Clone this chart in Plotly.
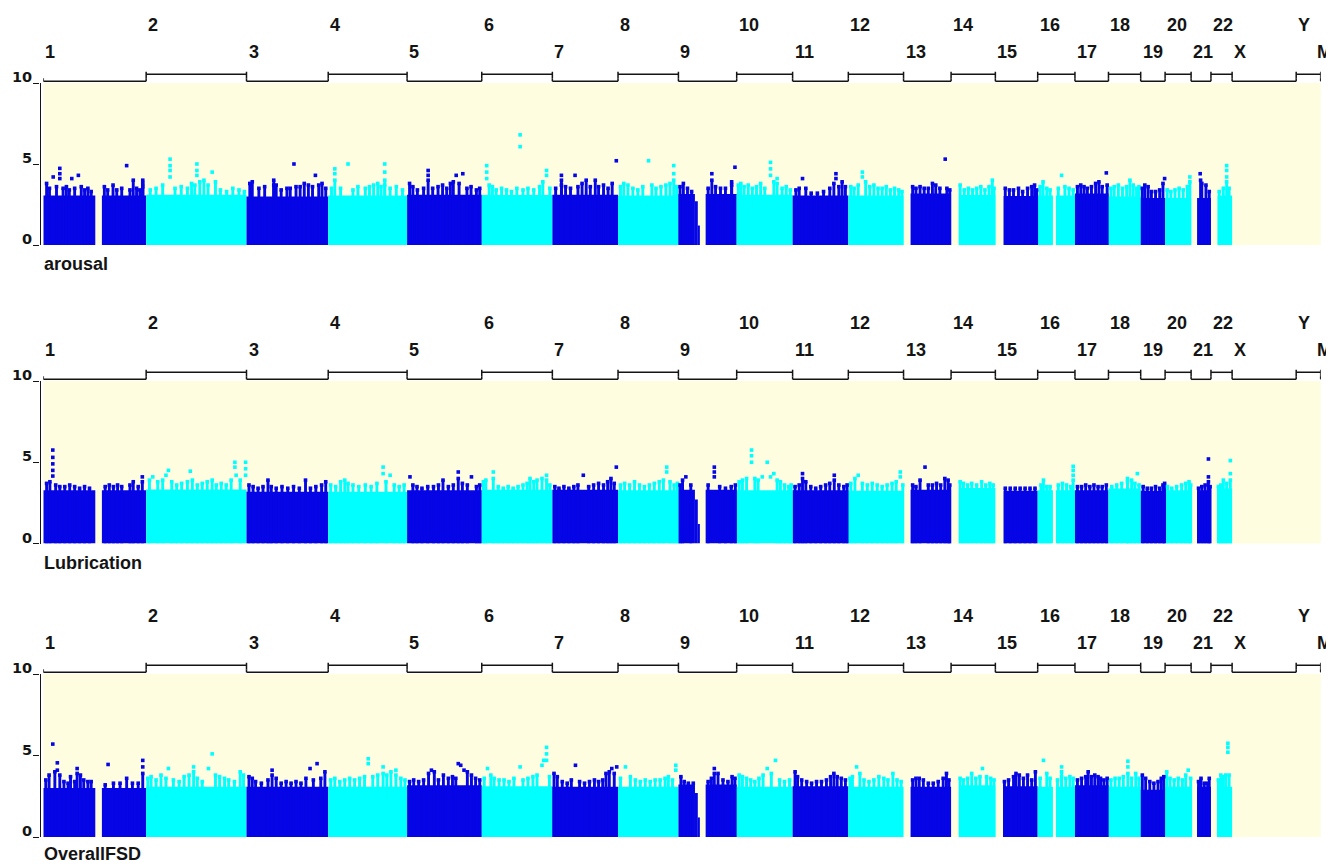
import plotly.graph_objects as go

# The page body adds an 8px margin, so the figure is drawn 8px smaller and
# every screen-pixel position below is converted with that offset.
SCREEN_W, SCREEN_H = 1334, 864
OFF = 8
W, H = SCREEN_W - OFF, SCREEN_H - OFF

# ---------------- data ----------------
CHROMS = [str(i) for i in range(1, 23)] + ["X", "Y", "M"]
CHROM_LEN_MB = [249.25, 243.20, 198.02, 191.15, 180.92, 171.12, 159.14, 146.36,
                141.21, 135.53, 135.01, 133.85, 115.17, 107.35, 102.53, 90.35,
                81.20, 78.08, 59.13, 63.03, 48.13, 51.30, 155.27, 59.37, 0.0166]

# covered stretches of each chromosome (start Mb, end Mb, max height or None)
DATA_SEGMENTS = {
    "1": [(0, 126, None), (142, 249.25, None)],
    "9": [(0, 40, None), (40, 47, 2.7), (47, 52, 1.2), (66, 141.21, None)],
    "13": [(17, 115.17, None)],
    "14": [(19, 107.35, None)],
    "15": [(20, 102.53, None)],
    "16": [(0, 37, None), (44, 90.35, None)],
    "21": [(14.5, 48.13, None)],
    "22": [(16, 51.30, None)],
}
AUTOSOMES = CHROMS[:22]

PANEL_NAMES = ["arousal", "Lubrication", "OverallFSD"]

# height of the solid band of SNPs per autosome (-log10 p)
BASE_AROUSAL = [3.05, 3.1, 3.0, 3.05, 3.1, 3.08, 3.1, 3.05, 3.15, 3.1, 3.05,
                3.05, 3.18, 3.08, 3.02, 3.05, 3.18, 3.0, 2.9, 2.9, 2.9, 3.05]
BASE_LUBRICATION = [3.28, 3.32, 3.18, 3.18, 3.28, 3.3, 3.3, 3.28, 3.3, 3.28, 3.28,
                    3.25, 3.3, 3.42, 3.25, 3.28, 3.28, 3.38, 3.25, 3.28, 3.28, 3.38]
BASE_OVERALLFSD = [3.0, 3.08, 3.08, 3.08, 3.18, 3.12, 3.08, 3.08, 3.22, 3.08, 3.12,
                   3.08, 3.08, 3.18, 3.12, 3.08, 3.18, 3.08, 2.9, 3.08, 3.08, 3.08]

# SNPs standing above the band: chromosome -> [(position Mb, -log10 p)]
PEAKS_AROUSAL = {
    "1": [(8, 3.8), (15, 3.5), (24, 4.2), (32, 3.6), (40, 4.73), (40, 4.4), (40, 4.1), (48, 3.5),
          (56, 3.6), (63, 3.4), (69, 4.1), (76, 3.5), (85, 4.3), (92, 3.6), (100, 3.4), (108, 3.5),
          (116, 3.3), (148, 3.6), (156, 3.4), (169, 3.7), (178, 3.4), (190, 3.5), (202, 4.9),
          (210, 3.4), (218, 4.0), (226, 3.5), (234, 3.4), (241, 4.0), (241, 3.8), (241, 3.6)],
    "2": [(10, 3.4), (24, 3.5), (40, 3.7), (58, 5.3), (58, 4.9), (58, 4.6), (58, 4.2), (70, 3.5),
          (85, 3.6), (100, 3.5), (110, 3.8), (118, 3.7), (123, 5.0), (123, 4.6), (123, 4.3),
          (130, 3.9), (140, 4.0), (150, 3.7), (160, 4.5), (168, 3.9), (180, 3.4), (195, 3.3),
          (210, 3.5), (225, 3.4), (238, 3.3)],
    "3": [(14, 3.9), (8, 3.8), (30, 3.5), (44, 3.6), (66, 4.0), (66, 3.7), (72, 3.7), (84, 3.4),
          (98, 3.5), (106, 3.5), (115, 5.0), (120, 3.6), (130, 3.6), (140, 3.8), (150, 3.7),
          (160, 3.6), (167, 4.3), (175, 3.7), (183, 3.8), (192, 3.5)],
    "4": [(8, 3.5), (16, 4.7), (16, 4.4), (16, 4.0), (30, 3.5), (48, 5.0), (60, 3.4), (72, 3.6),
          (90, 3.5), (100, 3.6), (110, 3.7), (120, 3.8), (128, 3.6), (137, 5.0), (137, 4.5),
          (137, 4.0), (137, 3.7), (150, 3.5), (165, 3.6), (180, 3.4)],
    "5": [(6, 3.8), (14, 3.6), (25, 3.4), (40, 3.5), (51, 4.6), (51, 4.3), (51, 4.0), (62, 3.5),
          (75, 3.6), (86, 3.7), (96, 3.5), (105, 3.8), (112, 3.9), (119, 4.3), (126, 3.8),
          (135, 4.4), (145, 3.5), (155, 3.6), (168, 3.4), (176, 3.5)],
    "6": [(12, 4.9), (12, 4.5), (12, 4.1), (18, 3.7), (26, 3.6), (35, 3.4), (48, 3.5), (60, 3.4),
          (72, 3.3), (85, 3.5), (93, 6.8), (93, 6.07), (100, 3.4), (112, 3.5), (126, 3.4),
          (140, 3.6), (148, 3.9), (157, 4.6), (157, 4.3), (165, 3.5)],
    "7": [(8, 3.5), (22, 4.3), (22, 4.0), (22, 3.7), (32, 3.6), (44, 3.5), (55, 4.3), (62, 3.6),
          (72, 3.8), (82, 4.0), (92, 3.6), (104, 4.0), (112, 3.6), (124, 3.7), (135, 3.5),
          (145, 3.8), (155, 5.2)],
    "8": [(6, 3.6), (14, 3.8), (24, 3.7), (36, 3.5), (48, 3.4), (60, 3.6), (74, 5.2), (82, 3.7),
          (92, 3.5), (104, 3.6), (116, 3.7), (126, 3.8), (135, 4.9), (135, 4.4), (135, 4.0),
          (142, 3.6)],
    "9": [(4, 3.6), (12, 3.8), (22, 3.5), (32, 3.3), (72, 3.5), (81, 4.4), (81, 4.0), (90, 3.6),
          (102, 3.5), (114, 3.5), (129, 3.9), (129, 3.7), (137, 4.8)],
    "10": [(4, 3.7), (10, 3.8), (18, 3.6), (28, 3.7), (38, 3.5), (48, 3.6), (58, 3.8), (68, 3.5),
           (82, 5.1), (82, 4.7), (82, 4.3), (90, 3.9), (98, 4.1), (98, 3.8), (110, 3.5),
           (120, 3.6), (130, 3.4)],
    "11": [(8, 3.4), (16, 3.5), (24, 4.1), (32, 3.5), (45, 3.2), (60, 3.2), (75, 3.3), (90, 3.5),
           (100, 3.8), (105, 4.4), (105, 4.1), (112, 3.6), (120, 3.9), (128, 3.6)],
    "12": [(6, 3.6), (14, 3.5), (24, 3.7), (34, 4.5), (34, 4.2), (42, 3.9), (52, 3.6), (62, 3.7),
           (72, 3.5), (82, 3.5), (92, 3.6), (102, 3.4), (112, 3.5), (122, 3.4), (130, 3.3)],
    "13": [(22, 3.6), (30, 3.5), (40, 3.6), (50, 3.5), (60, 3.5), (70, 3.8), (78, 3.7), (88, 3.5),
           (101, 5.3), (105, 3.5), (112, 3.4)],
    "14": [(22, 3.7), (32, 3.4), (42, 3.5), (52, 3.4), (62, 3.5), (72, 3.6), (82, 3.4), (92, 3.6),
           (100, 4.0), (104, 3.5)],
    "15": [(24, 3.5), (34, 3.4), (44, 3.4), (56, 3.5), (66, 3.3), (78, 3.5), (88, 3.6), (95, 3.7),
           (100, 3.4)],
    "16": [(6, 3.6), (13, 3.9), (22, 3.5), (30, 3.4), (50, 3.5), (58, 4.3), (66, 3.6), (76, 3.5),
           (86, 3.4)],
    "17": [(6, 3.6), (14, 3.7), (22, 3.6), (30, 3.5), (40, 3.6), (50, 3.8), (58, 3.9), (66, 3.6),
           (76, 4.45), (78, 3.7)],
    "18": [(6, 3.5), (14, 3.6), (24, 3.7), (34, 3.5), (44, 3.6), (52, 4.0), (60, 3.7), (68, 3.5),
           (74, 3.6)],
    "19": [(4, 3.5), (10, 3.7), (18, 3.6), (26, 3.3), (36, 3.3), (46, 3.4), (54, 3.8), (58, 4.1)],
    "20": [(5, 3.4), (14, 3.3), (24, 3.4), (34, 3.5), (44, 3.4), (54, 3.6), (60, 4.2), (60, 3.9)],
    "21": [(22, 4.4), (23, 4.0), (26, 3.8), (36, 3.7), (44, 3.3)],
    "22": [(20, 3.3), (30, 3.5), (38, 4.9), (38, 4.6), (38, 4.2), (38, 3.9), (44, 3.5)],
}

PEAKS_LUBRICATION = {
    "1": [(8, 3.7), (23, 5.75), (23, 5.3), (23, 4.9), (23, 4.5), (23, 4.15), (16, 3.8), (30, 3.6),
          (40, 3.5), (52, 3.5), (64, 3.6), (76, 3.5), (88, 3.4), (100, 3.5), (112, 3.4), (150, 3.5),
          (160, 3.6), (170, 3.5), (180, 3.6), (190, 3.5), (210, 3.6), (218, 3.8), (230, 3.5),
          (240, 4.1), (240, 3.8)],
    "2": [(8, 3.9), (16, 4.1), (28, 3.8), (40, 3.9), (48, 4.2), (54, 4.5), (62, 3.8), (74, 3.6),
          (86, 3.7), (100, 3.8), (107, 4.45), (112, 3.9), (124, 3.6), (136, 3.7), (148, 3.8),
          (160, 3.9), (170, 3.6), (182, 3.7), (194, 3.6), (206, 3.9), (215, 5.0), (215, 4.7),
          (218, 4.2), (228, 3.9), (241, 5.0), (241, 4.6), (241, 4.2)],
    "3": [(6, 3.6), (16, 3.5), (28, 3.4), (40, 3.5), (52, 3.9), (60, 3.5), (72, 3.4), (86, 3.5),
          (100, 3.4), (114, 3.5), (128, 3.4), (143, 3.9), (155, 3.4), (168, 3.5), (182, 3.6),
          (192, 3.8)],
    "4": [(6, 3.6), (18, 3.5), (30, 3.8), (40, 3.9), (48, 3.7), (60, 3.6), (74, 3.5), (90, 3.6),
          (104, 3.5), (118, 3.7), (133, 4.7), (133, 4.3), (140, 3.8), (150, 4.2), (160, 3.6),
          (172, 3.5), (184, 3.6)],
    "5": [(7, 4.1), (14, 3.6), (24, 3.5), (36, 3.4), (50, 3.5), (64, 3.5), (76, 3.6), (87, 3.9),
          (100, 3.5), (112, 3.6), (124, 4.4), (124, 4.0), (134, 3.7), (146, 3.6), (156, 4.1),
          (168, 3.5), (176, 3.6)],
    "6": [(4, 3.8), (10, 3.9), (28, 4.4), (28, 4.0), (40, 3.5), (52, 3.4), (64, 3.5), (76, 3.4),
          (88, 3.5), (100, 3.6), (110, 3.7), (117, 4.0), (126, 3.8), (134, 3.9), (146, 4.0),
          (157, 4.2), (157, 3.9), (165, 3.6)],
    "7": [(6, 3.5), (16, 3.4), (28, 3.5), (40, 3.4), (52, 3.5), (62, 3.6), (75, 4.2), (88, 3.5),
          (100, 3.6), (112, 3.7), (124, 3.6), (134, 3.8), (142, 4.0), (150, 3.7), (155, 4.7)],
    "8": [(6, 3.6), (16, 3.7), (28, 3.6), (40, 3.8), (52, 3.6), (64, 3.5), (76, 3.6), (88, 3.7),
          (100, 3.8), (110, 3.9), (118, 4.7), (118, 4.4), (126, 3.8), (136, 3.6), (144, 3.7)],
    "9": [(4, 3.6), (10, 3.9), (18, 4.1), (30, 3.6), (72, 3.6), (87, 4.7), (87, 4.4), (87, 4.1),
          (100, 3.5), (114, 3.4), (128, 3.5), (138, 3.6)],
    "10": [(6, 3.8), (14, 3.9), (24, 4.0), (36, 5.75), (36, 5.4), (36, 5.0), (44, 4.0), (52, 3.9),
           (62, 4.1), (74, 5.0), (82, 4.1), (90, 4.3), (98, 3.9), (106, 3.8), (116, 3.6),
           (126, 3.5), (132, 3.6)],
    "11": [(6, 3.5), (16, 3.6), (24, 4.3), (24, 4.0), (32, 3.8), (44, 3.5), (56, 3.4), (68, 3.5),
           (80, 3.6), (90, 3.7), (101, 4.2), (101, 3.9), (112, 3.6), (124, 3.5), (132, 3.6)],
    "12": [(6, 3.7), (16, 4.0), (24, 4.2), (34, 3.7), (46, 3.6), (58, 3.7), (70, 3.6), (82, 3.5),
           (94, 3.6), (106, 3.7), (116, 3.8), (126, 4.4), (126, 4.1), (132, 3.6)],
    "13": [(22, 3.6), (30, 3.5), (40, 3.9), (52, 4.7), (60, 3.6), (70, 3.6), (80, 3.7), (90, 3.6),
           (100, 4.0), (108, 3.9), (112, 3.6)],
    "14": [(22, 3.8), (30, 3.7), (40, 3.6), (50, 3.7), (62, 3.6), (74, 3.8), (84, 3.6), (94, 3.7),
           (102, 3.6)],
    "15": [(24, 3.4), (36, 3.4), (48, 3.4), (60, 3.4), (72, 3.4), (84, 3.4), (96, 3.4)],
    "16": [(8, 3.6), (14, 3.9), (22, 3.5), (30, 3.5), (50, 3.6), (60, 3.7), (70, 3.6), (80, 3.5),
           (86, 4.75), (86, 4.5), (86, 4.2), (86, 3.9)],
    "17": [(6, 3.5), (16, 3.5), (26, 3.6), (36, 3.5), (46, 3.6), (56, 3.5), (66, 3.5), (76, 3.6)],
    "18": [(8, 3.5), (20, 3.6), (32, 3.7), (46, 4.0), (46, 3.8), (56, 3.9), (64, 3.7), (70, 4.3),
           (74, 3.6)],
    "19": [(6, 3.5), (16, 3.4), (26, 3.4), (36, 3.5), (46, 3.4), (54, 3.6), (58, 3.7)],
    "20": [(6, 3.5), (16, 3.4), (28, 3.5), (40, 3.6), (50, 3.7), (58, 3.8), (62, 3.6)],
    "21": [(18, 3.4), (26, 3.5), (34, 3.6), (42, 5.2), (42, 4.1), (42, 3.8), (46, 3.5)],
    "22": [(18, 3.5), (24, 3.6), (30, 3.9), (38, 3.7), (47, 5.1), (47, 4.3), (47, 3.9)],
}

PEAKS_OVERALLFSD = {
    "1": [(6, 3.5), (14, 3.8), (23, 5.7), (28, 4.0), (34, 4.55), (34, 4.1), (40, 3.8), (50, 3.4),
          (60, 3.3), (66, 3.7), (76, 3.4), (82, 4.2), (82, 3.9), (90, 3.8), (98, 3.5), (108, 3.4),
          (116, 3.4), (150, 3.2), (157, 4.45), (170, 3.3), (186, 3.3), (202, 3.6), (216, 3.3),
          (230, 3.3), (241, 4.7), (241, 4.3), (241, 3.9)],
    "2": [(4, 3.6), (12, 3.7), (24, 3.5), (36, 3.8), (48, 3.6), (54, 4.2), (66, 3.5), (80, 3.4),
          (92, 3.7), (104, 3.8), (115, 4.3), (115, 4.0), (124, 3.6), (136, 3.4), (151, 4.2),
          (160, 5.1), (168, 3.8), (178, 3.7), (190, 3.6), (200, 3.5), (214, 3.4), (228, 4.0),
          (236, 3.8)],
    "3": [(6, 3.7), (14, 3.6), (22, 3.4), (36, 3.3), (52, 3.5), (62, 4.1), (62, 3.8), (72, 3.6),
          (84, 3.3), (96, 3.4), (108, 3.3), (120, 3.4), (132, 3.3), (144, 3.6), (154, 4.2),
          (162, 3.5), (171, 4.5), (180, 3.6), (190, 4.0)],
    "4": [(6, 3.5), (16, 3.6), (28, 3.4), (40, 3.5), (52, 3.6), (64, 3.5), (76, 3.6), (88, 3.7),
          (97, 4.8), (97, 4.5), (108, 3.7), (120, 3.8), (133, 4.3), (133, 3.9), (142, 3.8),
          (152, 4.0), (164, 4.1), (164, 3.8), (176, 3.6), (186, 3.5)],
    "5": [(6, 3.4), (16, 3.5), (28, 3.4), (40, 3.5), (52, 3.9), (59, 4.1), (66, 4.0), (76, 3.5),
          (88, 3.8), (100, 3.6), (110, 3.7), (118, 3.6), (124, 4.5), (130, 4.4), (138, 4.1),
          (146, 4.0), (156, 3.8), (166, 3.6), (176, 3.5)],
    "6": [(6, 3.6), (14, 4.2), (22, 3.8), (30, 3.6), (42, 3.5), (54, 3.5), (66, 3.4), (78, 3.6),
          (93, 4.3), (100, 3.5), (112, 3.6), (124, 3.7), (134, 3.8), (146, 4.4), (150, 4.7),
          (157, 5.5), (157, 5.1), (157, 4.7), (164, 3.7)],
    "7": [(4, 3.9), (12, 3.7), (24, 3.4), (36, 3.3), (46, 3.5), (56, 4.4), (66, 3.4), (78, 3.3),
          (90, 3.4), (102, 3.5), (112, 3.4), (122, 3.5), (130, 3.9), (138, 4.0), (144, 4.2),
          (150, 3.9), (156, 4.3)],
    "8": [(6, 3.6), (18, 4.3), (30, 3.7), (42, 3.5), (54, 3.4), (66, 3.5), (78, 3.4), (90, 3.5),
          (102, 3.5), (114, 3.6), (122, 3.7), (132, 3.5), (140, 4.4), (140, 4.1)],
    "9": [(6, 3.7), (14, 3.4), (24, 3.3), (36, 3.3), (72, 3.4), (80, 3.6), (87, 4.2), (87, 3.9),
          (96, 3.9), (108, 3.5), (120, 3.4), (130, 3.7), (137, 3.6)],
    "10": [(6, 3.8), (14, 3.7), (24, 3.6), (34, 3.5), (44, 3.4), (54, 3.6), (64, 3.8), (74, 4.2),
           (84, 3.9), (94, 4.7), (104, 3.5), (116, 3.4), (128, 3.5)],
    "11": [(6, 4.0), (12, 3.7), (22, 3.5), (34, 3.4), (46, 3.3), (58, 3.4), (70, 3.4), (82, 3.5),
           (92, 3.7), (100, 3.9), (108, 3.7), (118, 3.6), (128, 3.5)],
    "12": [(4, 3.6), (10, 3.7), (20, 4.3), (28, 3.9), (38, 3.5), (50, 3.4), (62, 3.5), (74, 3.7),
           (86, 3.6), (96, 3.5), (108, 3.9), (118, 3.5), (128, 3.4)],
    "13": [(22, 3.5), (30, 3.6), (38, 3.6), (48, 3.5), (60, 3.3), (72, 3.3), (84, 3.4), (96, 3.6),
           (104, 3.9), (110, 3.5)],
    "14": [(22, 3.6), (30, 3.5), (40, 3.6), (50, 3.9), (60, 3.6), (70, 3.7), (76, 4.2), (86, 3.7),
           (96, 3.6), (104, 3.5)],
    "15": [(22, 3.4), (32, 3.5), (44, 3.7), (50, 3.9), (58, 3.8), (68, 3.6), (78, 3.8), (88, 3.5),
           (97, 4.0)],
    "16": [(6, 3.6), (14, 4.7), (22, 3.9), (30, 3.6), (48, 3.5), (58, 4.3), (58, 4.0), (58, 3.7),
           (68, 3.6), (78, 3.7), (86, 3.6)],
    "17": [(6, 3.5), (16, 3.6), (26, 3.7), (32, 4.0), (40, 3.7), (48, 3.8), (56, 3.7), (62, 3.6),
           (70, 3.5), (78, 3.6)],
    "18": [(6, 3.5), (16, 3.6), (26, 3.6), (36, 3.7), (47, 4.65), (47, 4.3), (47, 3.9), (56, 3.6),
           (66, 3.9), (74, 3.6)],
    "19": [(4, 3.8), (12, 3.6), (22, 3.4), (32, 3.3), (42, 3.4), (50, 3.6), (56, 3.7)],
    "20": [(4, 4.0), (12, 3.6), (22, 3.5), (32, 3.6), (42, 3.5), (50, 3.8), (56, 4.1), (62, 3.6)],
    "21": [(18, 3.4), (24, 3.6), (32, 3.3), (40, 3.3), (44, 3.6)],
    "22": [(18, 3.5), (24, 3.8), (30, 3.7), (36, 3.8), (41, 5.75), (41, 5.5), (41, 5.2), (44, 3.8)],
}

BASES = [BASE_AROUSAL, BASE_LUBRICATION, BASE_OVERALLFSD]
PEAKS = [PEAKS_AROUSAL, PEAKS_LUBRICATION, PEAKS_OVERALLFSD]
Y_TICKS = [0, 5, 10]

# ---------------- style / layout ----------------
DARK = "#0505E6"
LIGHT = "#00FFFF"
BG = "#FFFDE0"
INK = "#141414"
FONT = "Liberation Sans, Arial, Helvetica, sans-serif"
TICK_FONT = "DejaVu Sans, Verdana, sans-serif"

# positions measured in screen pixels
X_LEFT_PX, X_RIGHT_PX = 43.3, 1320.7
AXIS_X_PX = 39.5
PANEL_PX = [(83, 245), (381, 543.5), (674, 837)]  # screen rows of y=10 and y=0
TITLE_GAP_PX = [19, 19, 16.5]


def px_x(sx):
    return (sx - OFF) / W


def px_y(sy):
    return 1 - (sy - OFF) / H


starts = {}
acc = 0.0
for c, L in zip(CHROMS, CHROM_LEN_MB):
    starts[c] = acc
    acc += L
TOTAL = acc
LEN = dict(zip(CHROMS, CHROM_LEN_MB))


def color_of(c):
    return DARK if AUTOSOMES.index(c) % 2 == 0 else LIGHT


fig = go.Figure()
shapes, annotations = [], []
layout_axes = {}

for p, name in enumerate(PANEL_NAMES):
    sfx = "" if p == 0 else str(p + 1)
    xa, ya = "x" + sfx, "y" + sfx
    top_px, bot_px = PANEL_PX[p]

    # solid bands
    bx, bw, by, bc = [], [], [], []
    for i, c in enumerate(AUTOSOMES):
        base = BASES[p][i]
        for s, e, cap in DATA_SEGMENTS.get(c, [(0, LEN[c], None)]):
            bx.append(starts[c] + (s + e) / 2)
            bw.append(e - s)
            by.append(base if cap is None else min(base, cap))
            bc.append(color_of(c))
    fig.add_trace(go.Bar(x=bx, y=by, width=bw, marker=dict(color=bc, line=dict(width=0)),
                         xaxis=xa, yaxis=ya, showlegend=False, hoverinfo="skip"))

    # fringe columns + individual SNPs
    tx, ty, tc, mx, my, mc = [], [], [], [], [], []
    for c, pts in PEAKS[p].items():
        for pos, v in pts:
            gx = starts[c] + pos
            mx.append(gx); my.append(v); mc.append(color_of(c))
            if v <= 4.05:
                tx.append(gx); ty.append(v); tc.append(color_of(c))
    fig.add_trace(go.Bar(x=tx, y=ty, width=7,
                         marker=dict(color=tc, line=dict(width=0)),
                         xaxis=xa, yaxis=ya, showlegend=False, hoverinfo="skip"))
    fig.add_trace(go.Scatter(x=mx, y=my, mode="markers",
                             marker=dict(symbol="square", size=3.6, color=mc, line=dict(width=0)),
                             xaxis=xa, yaxis=ya, showlegend=False, hoverinfo="skip", cliponaxis=False))

    layout_axes["xaxis" + sfx] = dict(domain=[px_x(X_LEFT_PX), px_x(X_RIGHT_PX)], range=[0, TOTAL],
                                      visible=False, anchor=ya, fixedrange=True)
    layout_axes["yaxis" + sfx] = dict(domain=[px_y(bot_px), px_y(top_px)], range=[0, 10],
                                      anchor="free", position=px_x(AXIS_X_PX),
                                      showline=True, linecolor=INK, linewidth=1.3,
                                      ticks="outside", ticklen=6, tickwidth=1.3, tickcolor=INK,
                                      tickvals=Y_TICKS, showticklabels=False,
                                      showgrid=False, zeroline=False, fixedrange=True)

    # y tick labels (sitting on the tick)
    for t in Y_TICKS:
        annotations.append(dict(x=px_x(33.5), xref="paper", y=t, yref=ya, xanchor="right",
                                yanchor="bottom", yshift=-4, showarrow=False,
                                text=f"<b>{t}</b>", font=dict(family=TICK_FONT, size=14.5, color=INK)))

    # chromosome brackets and labels
    for k, c in enumerate(CHROMS):
        s, e = starts[c], starts[c] + LEN[c]
        lower = (k % 2 == 0)
        if lower:
            yl, yt0, yt1 = top_px - 1.7, top_px - 1.7, top_px - 4.7
            lab_px = top_px - 31
        else:
            yl, yt0, yt1 = top_px - 8.7, top_px - 4.7, top_px - 11.3
            lab_px = top_px - 58
        line = dict(color=INK, width=1.5)
        shapes.append(dict(type="line", xref=xa, yref="paper", x0=s, x1=e,
                           y0=px_y(yl), y1=px_y(yl), line=line))
        for xx in (s, e):
            shapes.append(dict(type="line", xref=xa, yref="paper", x0=xx, x1=xx,
                               y0=px_y(yt0), y1=px_y(yt1), line=line))
        annotations.append(dict(x=s, xref=xa, y=px_y(lab_px), yref="paper", xanchor="left",
                                yanchor="middle", showarrow=False, text=f"<b>{c}</b>",
                                xshift=-6 if c == "M" else 0,
                                font=dict(family=FONT, size=18, color=INK)))

    # panel title under the plot
    annotations.append(dict(x=px_x(43), xref="paper", y=px_y(bot_px + TITLE_GAP_PX[p]), yref="paper",
                            xanchor="left", yanchor="middle", showarrow=False, borderpad=0,
                            text=f"<b>{name}</b>", font=dict(family=FONT, size=18, color=INK)))

fig.update_layout(width=W, height=H, margin=dict(l=0, r=0, t=0, b=0),
                  paper_bgcolor="white", plot_bgcolor=BG, barmode="overlay",
                  showlegend=False, shapes=shapes, annotations=annotations, **layout_axes)

fig.write_html("out.html")
